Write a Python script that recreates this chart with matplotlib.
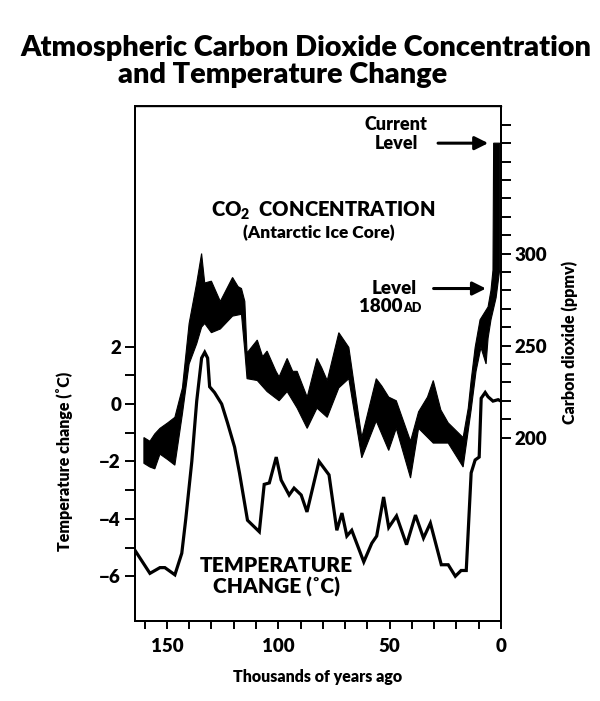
"""CO2 concentration and temperature change from the Antarctic ice core."""

import matplotlib

matplotlib.use("Agg")
import matplotlib.pyplot as plt
from matplotlib.ticker import FixedLocator

plt.rcParams["font.family"] = ["Lato", "DejaVu Sans"]
plt.rcParams["font.weight"] = "heavy"
plt.rcParams["mathtext.default"] = "regular"

# temperature change, thousands of years ago -> degrees C
temp_age = [164.3, 157.6, 153.1, 150.9, 146.4, 143.3, 141.5, 138.8, 136.6, 134.4,
            133.0, 131.7, 130.8, 128.6, 125.4, 122.8, 119.6, 117.4, 113.8, 108.5,
            106.3, 104.0, 100.9, 98.7, 95.1, 92.9, 89.7, 87.1, 81.7, 77.2,
            73.7, 71.4, 69.2, 67.0, 61.6, 58.0, 55.8, 52.7, 50.4, 46.9,
            42.4, 38.4, 34.8, 31.7, 26.8, 23.7, 20.5, 17.9, 15.6, 13.4,
            11.6, 9.8, 8.9, 7.1, 5.8, 3.6, 1.3, 0.0]
temp_value = [-5.1, -5.9, -5.7, -5.7, -5.95, -5.2, -4.0, -2.0, 0.1, 1.6,
              1.8, 1.6, 0.6, 0.4, 0.0, -0.65, -1.5, -2.4, -4.05, -4.45,
              -2.8, -2.75, -1.85, -2.65, -3.17, -2.93, -3.17, -3.76, -2.0, -2.47,
              -4.4, -3.8, -4.6, -4.4, -5.5, -4.85, -4.6, -3.24, -4.3, -3.9,
              -4.9, -3.87, -4.67, -4.15, -5.6, -5.6, -6.0, -5.8, -5.8, -2.4,
              -1.95, -1.85, 0.2, 0.4, 0.25, 0.1, 0.15, 0.1]

# CO2 band, upper envelope (ppmv)
co2_top_age = [160.3, 157.6, 155.4, 153.1, 149.6, 146.4, 143.0, 140.0, 136.6, 134.4,
               133.0, 130.0, 126.0, 120.5, 118.0, 116.5, 115.0, 114.0, 109.4, 107.0,
               105.0, 101.0, 99.6, 96.0, 93.5, 91.5, 87.0, 82.6, 80.5, 78.0,
               72.8, 68.3, 62.5, 56.0, 53.5, 50.4, 47.0, 40.6, 37.0, 33.0,
               30.4, 27.0, 23.7, 17.0, 14.7, 13.4, 11.6, 9.4, 5.8, 4.5,
               3.6, 3.3, 0.6]
co2_top = [200, 198, 202, 205, 208, 211, 227, 262, 284, 300,
           284, 285, 274, 287, 282, 281, 274, 246, 253, 244,
           247, 236, 233, 243, 236, 236, 222, 243, 238, 231,
           257, 249, 200, 232, 228, 222, 220, 198, 214, 222,
           231, 215, 208, 200, 216, 231, 249, 264, 271, 280,
           291, 360, 360]

# CO2 band, lower envelope (ppmv)
co2_low_age = [160.3, 157.6, 155.4, 153.1, 149.6, 146.4, 143.0, 140.0, 136.6, 134.4,
               133.0, 130.0, 126.0, 120.5, 116.5, 115.0, 114.0, 109.4, 105.0, 99.6,
               96.0, 91.5, 87.0, 82.6, 78.0, 72.8, 68.3, 62.5, 56.0, 50.4,
               47.0, 40.6, 37.0, 30.4, 23.7, 17.0, 13.4, 11.2, 9.0, 6.7,
               5.8, 4.5, 2.2, 0.6]
co2_low = [186, 184, 183, 191, 188, 185, 213, 240, 251, 260,
           262, 257, 259, 266, 267, 247, 232, 231, 225, 220,
           225, 216, 205, 216, 211, 227, 232, 189, 209, 193,
           205, 178, 205, 197, 197, 184, 215, 236, 249, 240,
           254, 264, 276, 291]

x_major = [150, 100, 50, 0]
x_minor = [160, 140, 130, 120, 110, 90, 80, 70, 60, 40, 30, 20, 10]
temp_major = [-6, -4, -2, 0, 2]
temp_minor = [-5, -3, -1, 1]
co2_major = [200, 250, 300]
co2_minor = [210, 220, 230, 240, 260, 270, 280, 290, 310, 320, 330, 340, 350, 360, 370]

fig = plt.figure(figsize=(6.0, 7.01), dpi=100)
ax = fig.add_axes([0.225, 0.1141, 0.61, 0.7347])
ax2 = ax.twinx()

# CO2 band as one closed polygon
band_x = co2_top_age + co2_low_age[::-1]
band_y = co2_top + co2_low[::-1]
ax2.fill(band_x, band_y, color="black", lw=0.8, zorder=2)

ax.plot(temp_age, temp_value, color="black", lw=2.3, solid_joinstyle="miter", zorder=3)

ax.set_xlim(164.3, 0)
ax.set_ylim(-7.56, 10.38)
ax2.set_ylim(100.3, 380.2)

for spine in list(ax.spines.values()) + list(ax2.spines.values()):
    spine.set_linewidth(1.4)
ax.spines["top"].set_linewidth(1.0)

ax.xaxis.set_major_locator(FixedLocator(x_major))
ax.xaxis.set_minor_locator(FixedLocator(x_minor))
ax.yaxis.set_major_locator(FixedLocator(temp_major))
ax.yaxis.set_minor_locator(FixedLocator(temp_minor))
ax2.yaxis.set_major_locator(FixedLocator(co2_major))
ax2.yaxis.set_minor_locator(FixedLocator(co2_minor))

for axis_obj in (ax, ax2):
    axis_obj.tick_params(which="both", direction="out", length=7, width=1.4,
                         labelsize=13.5, pad=3)
ax.tick_params(axis="x", which="both", length=6, pad=6)

ax.set_xlabel("Thousands of years ago", fontsize=11.5, fontweight="heavy", labelpad=10)
ax.set_ylabel("Temperature change (˚C)", fontsize=11.5, fontweight="heavy", labelpad=12)
ax2.set_ylabel("Carbon dioxide (ppmv)", fontsize=11.5, fontweight="heavy", labelpad=12)
ax.yaxis.set_label_coords(-0.17, 0.31)
ax2.yaxis.set_label_coords(1.165, 0.54)

# in-plot labels
ax2.text(80, 323, "CO$_2$  CONCENTRATION", ha="center", va="center", fontsize=14.5)
ax2.text(81.7, 311, "(Antarctic Ice Core)", ha="center", va="center", fontsize=12.5)
ax2.text(47, 370, "Current", ha="center", va="center", fontsize=13)
ax2.text(47, 360, "Level", ha="center", va="center", fontsize=13)
ax2.annotate("", xy=(4.5, 360), xytext=(29.5, 360),
             arrowprops=dict(arrowstyle="-|>", color="black", lw=2.2, mutation_scale=20))
ax2.text(48, 281, "Level", ha="center", va="center", fontsize=13.5)
ax2.text(44, 271, "1800", ha="right", va="center", fontsize=13.5)
ax2.text(44, 270.3, "AD", ha="left", va="center", fontsize=9)
ax2.annotate("", xy=(5.5, 281), xytext=(31.5, 281),
             arrowprops=dict(arrowstyle="-|>", color="black", lw=2.2, mutation_scale=20))
ax.text(101, -5.64, "TEMPERATURE", ha="center", va="center", fontsize=15)
ax.text(101, -6.38, "CHANGE (˚C)", ha="center", va="center", fontsize=15)

fig.text(20 / 600, 1 - 48 / 701, "Atmospheric Carbon Dioxide Concentration",
         ha="left", va="center", fontsize=20.8)
fig.text(118 / 600, 1 - 75 / 701, "and Temperature Change",
         ha="left", va="center", fontsize=20.8)

fig.savefig("out.png", dpi=100)
